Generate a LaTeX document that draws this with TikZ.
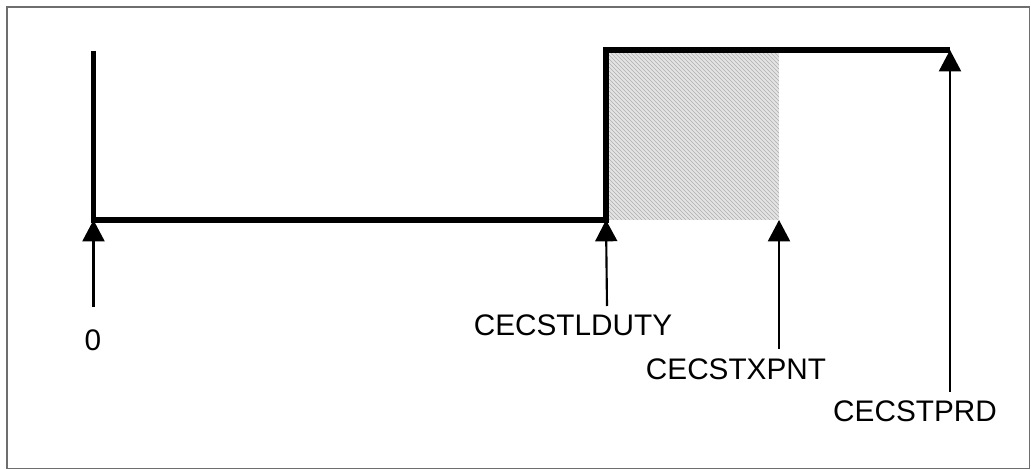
\documentclass[tikz,border=0pt]{standalone}
\usepackage{fontspec}
\setmainfont{Liberation Sans}
\usepackage{xcolor}
\definecolor{wfblack}{RGB}{0,0,0}
\definecolor{framegray}{RGB}{110,110,110}
\definecolor{hatchgray}{RGB}{175,175,175}
\definecolor{hatchbg}{RGB}{228,228,228}
\usepackage{tikz}
\usetikzlibrary{arrows.meta, positioning, patterns}

\tikzset{
  wave/.style={wfblack, line width=3.8pt, line join=miter},
  ptr/.style={wfblack, line width=1.6pt, -{Triangle[width=16.5pt, length=16pt]}},
  lbl/.style={font=\fontsize{22.3}{26}\selectfont, inner sep=0pt}
}

\begin{document}
\begin{tikzpicture}[x=0.75pt, y=-0.75pt]
  \useasboundingbox (0,0) rectangle (1031,470);

  % Frame
  \draw[framegray, line width=1.1pt] (7,7) rectangle (1029.5,468.5);

  % Hatched region
  \fill[hatchbg] (606,50) rectangle (779,220);
  \fill[pattern=north west lines, pattern color=hatchgray] (606,50) rectangle (779,220);

  % Waveform points
  \coordinate (start) at (93.5,51);
  \coordinate (zero) at (93.5,220);
  \coordinate (rise) at (606,220);
  \coordinate (riseTop) at (606,50);
  \coordinate (xpnt) at (779,220);
  \coordinate (prd) at (950,50);

  % Waveform
  \draw[wave] (start) -- (zero) -- (rise) -- (riseTop) -- (prd);

  % Arrow tails
  \coordinate (zeroTail) at (93.5,307);
  \coordinate (riseTail) at (607,306);
  \coordinate (xpntTail) at (779,349);
  \coordinate (prdTail) at (950,392);

  % Pointers
  \draw[ptr] (zeroTail) -- (zero);
  \draw[ptr] (riseTail) -- (rise);
  \draw[ptr] (xpntTail) -- (xpnt);
  \draw[ptr] (prdTail) -- (prd);

  % Labels
  \node[lbl] (lblZero) at (93,340) {0};
  \node[lbl] (lblDuty) at (573,325) {CECSTLDUTY};
  \node[lbl] (lblXpnt) at (736,369) {CECSTXPNT};
  \node[lbl] (lblPrd) at (915,411) {CECSTPRD};
\end{tikzpicture}
\end{document}
